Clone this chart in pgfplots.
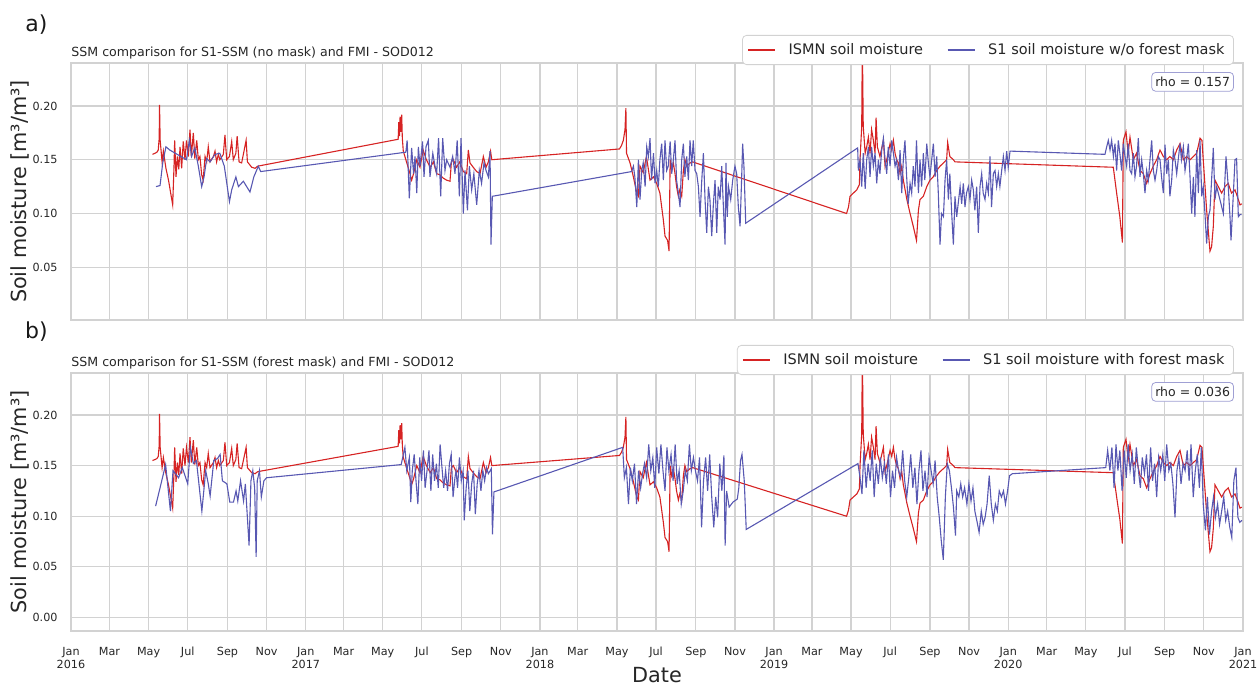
\documentclass[border=0pt]{standalone}
\usepackage{fontspec}
\setmainfont{DejaVu Sans}
\usepackage{pgfplots}
\pgfplotsset{compat=1.18}
\usepackage{pgfplotstable}

\definecolor{ismn}{RGB}{214,35,35}
\definecolor{sone}{RGB}{88,88,178}
\definecolor{gridc}{RGB}{210,210,210}
\definecolor{rhoc}{RGB}{160,160,212}

% days since 2016-01-01, soil moisture
\pgfplotstableread{
d v
127 0.155
131 0.156
134 0.157
136 0.159
137.5 0.170
138 0.201
139 0.168
142 0.148
144 0.158
148 0.142
152 0.131
158.5 0.108
160.6 0.144
161.6 0.168
163.7 0.134
165.8 0.153
168 0.141
170 0.162
172.5 0.142
175 0.167
177.7 0.150
180 0.168
183 0.153
185.5 0.178
187.6 0.153
190.7 0.175
193 0.151
196 0.168
198.5 0.150
201 0.153
203.7 0.136
206 0.131
209 0.153
211.5 0.148
214 0.162
216.7 0.148
222 0.153
224.5 0.158
227 0.148
229.7 0.155
232 0.150
237.5 0.155
240 0.173
242.7 0.150
247 0.153
250.5 0.167
253 0.150
257 0.156
259 0.172
262 0.148
266 0.147
273 0.168
275 0.148
281.7 0.143
287 0.142
291 0.144
510 0.169
511 0.185
512 0.172
513 0.190
514 0.176
515.5 0.192
516.5 0.170
518 0.158
523 0.148
528.5 0.137
531 0.131
534 0.137
539 0.150
544 0.143
549 0.159
554 0.150
560 0.143
565 0.148
570 0.137
575 0.136
580 0.133
585.6 0.131
590.8 0.130
593 0.148
596 0.150
601 0.143
606 0.148
611.6 0.139
616.8 0.137
619.4 0.159
622 0.147
627 0.143
632.4 0.139
637.6 0.137
642.8 0.153
647 0.143
650.6 0.148
654 0.158
656 0.150
855 0.160
858 0.163
861 0.168
863.6 0.178
865 0.198
866 0.156
871.5 0.147
876.7 0.134
882 0.119
884.5 0.116
887 0.144
892 0.138
897 0.153
902.6 0.131
908 0.134
913 0.128
918 0.119
923.4 0.094
926 0.079
930 0.075
932.3 0.065
934 0.150
936.4 0.140
939 0.147
941.6 0.137
944 0.125
946.8 0.116
949 0.122
952 0.116
954.6 0.140
957 0.150
959.8 0.144
965 0.147
969 0.148
1209 0.100
1212 0.106
1214.4 0.116
1219.6 0.119
1225 0.122
1229 0.127
1230 0.150
1232.6 0.181
1233.6 0.260
1235 0.181
1238 0.156
1240.4 0.162
1243 0.171
1245.6 0.156
1248 0.178
1250.8 0.168
1253.4 0.156
1255 0.189
1257 0.162
1261 0.153
1266.4 0.168
1269 0.144
1271.6 0.150
1276.8 0.165
1279.4 0.159
1282 0.168
1284.6 0.156
1287 0.150
1289.8 0.147
1292.4 0.137
1295 0.144
1297.5 0.131
1303 0.113
1308 0.100
1313 0.088
1318 0.075
1321 0.103
1323.5 0.113
1328.7 0.116
1334 0.125
1339 0.131
1344 0.134
1349.5 0.140
1354.7 0.144
1360 0.147
1365 0.150
1366.6 0.166
1370 0.153
1375.5 0.150
1378 0.148
1624.8 0.143
1630 0.119
1635 0.097
1639 0.073
1640.4 0.168
1644.6 0.176
1648 0.156
1650.8 0.171
1656 0.150
1661 0.156
1666.4 0.140
1671.6 0.137
1676.8 0.128
1682 0.137
1687 0.144
1692.4 0.150
1697.6 0.159
1702.8 0.153
1708 0.150
1713 0.153
1718.4 0.150
1723.6 0.159
1728.8 0.165
1734 0.150
1739 0.153
1744.4 0.150
1749.6 0.153
1754.8 0.156
1760 0.170
1763 0.168
1765 0.150
1770.3 0.103
1775.5 0.065
1778 0.069
1780.7 0.088
1783.3 0.131
1788.5 0.125
1793.7 0.119
1799 0.125
1804 0.128
1809 0.119
1814.5 0.122
1819.7 0.113
1822.3 0.108
1825 0.109
}\redtab

\pgfplotstableread{
d v
132.5 0.125
138.8 0.126
143 0.147
148 0.162
154 0.159
180 0.150
184.5 0.168
188 0.153
193 0.161
198.5 0.144
203.7 0.125
207.4 0.134
211.5 0.151
216.7 0.148
224.5 0.155
232 0.156
239 0.144
247 0.111
250.5 0.122
257 0.134
261 0.125
268.7 0.130
279 0.120
285 0.134
292 0.144
295.7 0.139
522 0.157
524 0.168
527.4 0.114
531 0.161
534 0.137
536.3 0.153
539 0.119
541.5 0.162
544 0.144
548 0.167
550.3 0.134
553.4 0.162
557 0.168
559.6 0.134
564 0.156
567.4 0.144
570 0.137
573 0.170
576.3 0.116
579.4 0.170
583 0.140
585.6 0.150
590.8 0.143
595 0.153
598.6 0.137
602 0.168
605.4 0.116
608 0.170
611.6 0.100
614.2 0.140
618 0.103
621 0.144
624.6 0.122
628 0.137
632.4 0.108
636.5 0.140
640 0.128
643.8 0.147
647 0.140
650.6 0.134
653.2 0.158
654.7 0.071
656.8 0.116
874 0.139
876.7 0.144
879 0.134
882 0.106
884.5 0.150
887 0.113
889.7 0.140
892 0.147
895 0.125
897.5 0.162
900 0.153
902.6 0.170
905 0.131
908 0.156
910.5 0.128
913 0.140
915.6 0.125
918 0.150
920.8 0.165
923.4 0.131
926 0.168
928.6 0.140
931 0.144
934 0.167
936.4 0.137
939 0.150
941.6 0.168
944 0.131
946.8 0.119
949.4 0.106
952 0.150
954.6 0.165
957 0.134
959.8 0.153
962.4 0.131
965 0.168
967.6 0.144
970 0.168
972.8 0.140
975.4 0.137
978 0.125
980.6 0.097
983 0.128
985.8 0.156
988.4 0.113
991 0.082
993.6 0.125
996 0.113
998.8 0.079
1001.4 0.109
1004 0.131
1006.6 0.082
1009 0.125
1011.8 0.113
1014.4 0.144
1017 0.106
1019.6 0.071
1021 0.147
1023 0.097
1025 0.125
1028.4 0.113
1031.5 0.131
1035 0.144
1037.7 0.137
1040.3 0.106
1043 0.088
1045.5 0.134
1047 0.165
1049 0.144
1051.8 0.091
1226.3 0.161
1227.4 0.140
1230 0.150
1232.6 0.125
1235 0.156
1238 0.123
1240.4 0.150
1243 0.162
1245.6 0.134
1248 0.162
1250.8 0.144
1253.4 0.156
1256 0.128
1258.6 0.150
1261 0.137
1263.8 0.159
1266.4 0.170
1269 0.150
1271.6 0.137
1274 0.162
1276.8 0.144
1279.4 0.168
1282 0.156
1284.6 0.144
1287 0.150
1289.8 0.131
1292.4 0.159
1295 0.119
1297.5 0.150
1300 0.168
1302.7 0.134
1305 0.109
1308 0.128
1310.5 0.119
1313 0.144
1315.7 0.125
1318 0.168
1321 0.119
1323.5 0.150
1326 0.125
1328.7 0.156
1331 0.131
1334 0.165
1336.5 0.147
1339 0.134
1341.7 0.150
1344.3 0.165
1347 0.134
1349.5 0.153
1352 0.119
1354.7 0.071
1357 0.100
1360 0.097
1362.5 0.131
1365 0.150
1367.7 0.113
1370 0.137
1372.9 0.100
1375.5 0.071
1378 0.116
1380.7 0.097
1386 0.125
1388.4 0.109
1391 0.128
1393.6 0.106
1396 0.119
1398.8 0.125
1401.4 0.113
1404 0.131
1406.6 0.122
1409 0.103
1411.8 0.125
1414.4 0.082
1417 0.125
1419.6 0.137
1422 0.119
1424.8 0.113
1427.4 0.128
1430 0.119
1432.6 0.153
1435 0.106
1437.8 0.137
1440.4 0.140
1443 0.125
1445.6 0.137
1448 0.125
1450.8 0.140
1453.4 0.153
1456 0.140
1458.6 0.158
1461 0.143
1463.8 0.158
1611.8 0.155
1614.5 0.162
1617 0.168
1619.7 0.159
1622.2 0.168
1625 0.153
1627.4 0.165
1630 0.140
1632.6 0.168
1635 0.156
1637.8 0.140
1640.4 0.165
1643 0.153
1645.6 0.144
1648 0.165
1650.8 0.140
1653.4 0.137
1656 0.156
1658.6 0.134
1661 0.144
1663.8 0.170
1666.4 0.134
1669 0.150
1671.6 0.137
1674.2 0.119
1676.8 0.140
1679.4 0.131
1682 0.150
1684.6 0.168
1687.2 0.140
1689.8 0.131
1692.4 0.140
1695 0.153
1697.6 0.150
1700 0.134
1702.8 0.119
1705.4 0.164
1708 0.137
1710.6 0.150
1713 0.116
1715.8 0.131
1718.4 0.159
1721 0.150
1723.6 0.137
1726 0.150
1728.8 0.165
1731 0.150
1734 0.162
1736.6 0.140
1739 0.150
1741.8 0.165
1744.4 0.134
1747 0.100
1749.6 0.134
1752 0.097
1754.8 0.159
1757.4 0.119
1760 0.168
1762.6 0.116
1765 0.125
1767.7 0.100
1770.3 0.072
1773 0.097
1775.5 0.103
1780.7 0.161
1783.3 0.113
1786 0.125
1791 0.113
1796.3 0.100
1800.5 0.153
1804 0.125
1806.7 0.097
1808.3 0.075
1812 0.119
1814.5 0.150
1817 0.151
1819.7 0.097
1822.3 0.099
1825 0.099
}\blueatab

\pgfplotstableread{
d v
131.9 0.110
138.8 0.128
147.5 0.151
155 0.105
159 0.145
167.7 0.138
173.5 0.148
182 0.132
186 0.168
190.8 0.152
195.5 0.155
204 0.105
210 0.145
214 0.132
216.9 0.120
222.6 0.155
228.4 0.157
232.5 0.161
236 0.135
243 0.132
247.5 0.114
253.3 0.114
257.3 0.125
260 0.115
264.3 0.135
269 0.115
271.8 0.132
277.6 0.071
280.5 0.135
283.4 0.145
286.3 0.128
288.6 0.060
290.3 0.135
293.8 0.145
296.7 0.119
300.7 0.135
304.8 0.138
514.7 0.151
520.5 0.168
523.4 0.145
527.5 0.158
529.7 0.114
532 0.145
535 0.161
537.8 0.135
540.7 0.112
543.6 0.158
546.5 0.135
549.4 0.165
552 0.128
555 0.145
558 0.165
561 0.125
563.8 0.161
566.7 0.135
569.6 0.152
572.5 0.128
575.4 0.171
578.3 0.148
581 0.128
584 0.145
587 0.125
589.9 0.152
592.7 0.161
595.6 0.119
598.5 0.138
600.3 0.145
602.6 0.128
605.5 0.158
608.4 0.135
611.3 0.145
613 0.096
616 0.128
618.8 0.145
621.7 0.105
624.6 0.132
627.5 0.145
630.3 0.102
633.2 0.132
636 0.145
639 0.125
642 0.145
644.8 0.135
647.7 0.148
650.6 0.142
653.5 0.145
655.2 0.147
657 0.082
659.3 0.124
860 0.168
862.6 0.138
865.8 0.148
869 0.112
872 0.148
875 0.135
878.4 0.152
881.6 0.112
884.8 0.145
888 0.128
891 0.142
894 0.152
897.4 0.138
900.6 0.171
903.8 0.145
907 0.158
910 0.128
913 0.168
916.4 0.142
919.6 0.171
922.8 0.145
926 0.125
929 0.168
932 0.145
935.4 0.161
938.6 0.135
941.8 0.171
945 0.132
948 0.145
951.3 0.112
954.4 0.125
957.6 0.145
960.8 0.135
964 0.171
967 0.145
970.3 0.158
973.4 0.145
976.6 0.135
979.8 0.158
983 0.089
986 0.135
989.3 0.158
992.4 0.125
995.6 0.161
998.8 0.119
1002 0.089
1005 0.119
1008 0.099
1011.4 0.152
1014.6 0.125
1017.8 0.160
1019.7 0.071
1022 0.125
1026 0.109
1032 0.114
1038.7 0.117
1041 0.128
1043.7 0.155
1046 0.161
1049.5 0.135
1052.6 0.087
1226.8 0.152
1230 0.138
1233 0.122
1236 0.165
1239.5 0.128
1242.6 0.152
1245.8 0.135
1249 0.165
1252 0.119
1255.3 0.152
1258.5 0.132
1261.6 0.158
1264.8 0.138
1268 0.152
1271 0.132
1274.3 0.161
1277.5 0.119
1280.6 0.145
1283.8 0.128
1287 0.158
1290 0.145
1293.3 0.138
1296.5 0.165
1299.6 0.135
1302.8 0.119
1306 0.138
1309 0.161
1312.3 0.128
1315.5 0.148
1318.7 0.112
1321.8 0.145
1325 0.165
1328 0.125
1331.3 0.145
1334.5 0.119
1337.6 0.158
1340.8 0.145
1344 0.132
1347 0.155
1350.3 0.119
1353.5 0.099
1356.6 0.076
1359.8 0.057
1363 0.119
1366 0.152
1369.3 0.145
1372.5 0.128
1375.6 0.109
1378.8 0.081
1380.7 0.125
1384 0.119
1387 0.132
1390 0.119
1393 0.128
1396.6 0.112
1399.7 0.132
1403 0.115
1406 0.128
1409 0.105
1412.6 0.094
1415.6 0.084
1419 0.105
1422 0.092
1425 0.099
1428 0.112
1431.4 0.140
1434.6 0.112
1437.8 0.096
1441 0.112
1444 0.105
1447 0.125
1450.4 0.119
1453.6 0.125
1456.7 0.112
1460 0.125
1463 0.140
1467.5 0.142
1613 0.148
1616 0.165
1619.5 0.145
1622.6 0.168
1626 0.128
1629 0.171
1632 0.145
1635 0.165
1638.5 0.125
1641.7 0.165
1645 0.138
1648 0.171
1651 0.145
1654.4 0.161
1657.5 0.132
1660.7 0.168
1664 0.145
1667 0.128
1670 0.158
1673.4 0.142
1676.5 0.161
1679.7 0.125
1683 0.168
1686 0.135
1689.2 0.152
1692.4 0.119
1695.5 0.158
1698.7 0.145
1702 0.161
1705 0.135
1708 0.171
1711.4 0.145
1714.5 0.152
1717.7 0.132
1721 0.099
1724 0.145
1727 0.158
1730.4 0.132
1733.6 0.152
1736.7 0.145
1740 0.165
1743 0.135
1746 0.171
1749.4 0.119
1752.6 0.145
1755.7 0.161
1759 0.128
1762 0.168
1765 0.112
1768.4 0.086
1771.5 0.119
1774.7 0.082
1778 0.105
1781 0.119
1784 0.099
1787.4 0.112
1790.5 0.092
1793.7 0.105
1797 0.119
1800 0.096
1803 0.105
1806.4 0.089
1809.5 0.079
1812.7 0.135
1816 0.148
1819 0.099
1822 0.094
1825.4 0.096
}\bluebtab

\pgfplotsset{
  ssm/.style={
    scale only axis, width=586pt,
    xmin=0, xmax=1827,
    xtick={0,60,121,182,244,305,366,425,486,547,609,670,731,790,851,912,974,1035,1096,1155,1216,1277,1339,1400,1461,1521,1582,1643,1705,1766,1827},
    grid=major,
    major grid style={gridc, line width=0.6pt},
    axis line style={gridc, line width=0.7pt},
    major tick length=0pt,
    /pgf/number format/assume math mode=true,
    tick label style={font=\fontsize{5.6}{6.5}\selectfont, text=black!85},
    yticklabel style={/pgf/number format/.cd, fixed, fixed zerofill, precision=2, /tikz/.cd, xshift=-3.2pt},
    xticklabel style={align=center, yshift=-4.5pt},
    ylabel={Soil moisture [m³/m³]},
    ylabel style={at={(axis description cs:-0.0435,0.5)}, rotate=0, anchor=center, font=\fontsize{10.4}{12}\selectfont, text=black!85},
    title style={at={(rel axis cs:0,1)}, anchor=south west, inner sep=0pt, yshift=-4.2pt, font=\fontsize{6.3}{7.5}\selectfont, text=black!85},
    legend columns=2,
    legend style={at={(rel axis cs:0.9923,1)}, anchor=south east, yshift=-1pt,
      font=\fontsize{7.25}{8.5}\selectfont, text=black!85,
      draw=gridc, rounded corners=2pt, fill=white, inner xsep=2.5pt, inner ysep=1.8pt,
      /tikz/every odd column/.append style={column sep=4.5pt},
      /tikz/every even column/.append style={column sep=10pt}},
    legend image code/.code={\draw[#1] (0pt,0pt) -- (13.5pt,0pt);},
    every axis plot/.append style={line width=0.55pt},
  }
}

\begin{document}
\begin{tikzpicture}
\useasboundingbox (0,0) rectangle (628.5pt,-343.5pt);

\node[font=\fontsize{11}{13}\selectfont, text=black!90] at (18.25pt,-12.5pt) {a)};
\node[font=\fontsize{11}{13}\selectfont, text=black!90] at (18.25pt,-166pt) {b)};

\begin{axis}[ssm, at={(35.5pt,-31.5pt)}, anchor=north west, height=128.5pt,
  ymin=0.001, ymax=0.2399, ytick={0.05,0.10,0.15,0.20},
  xticklabels={},
  title={SSM comparison for S1-SSM (no mask) and FMI - SOD012}]
\addplot[ismn] table[x=d,y=v] {\redtab};
\addlegendentry{ISMN soil moisture}
\addplot[sone] table[x=d,y=v] {\blueatab};
\addlegendentry{S1 soil moisture w/o forest mask}
\node[draw=rhoc, rounded corners=2pt, fill=white, anchor=north east, inner xsep=1.8pt, inner ysep=2.3pt,
  font=\fontsize{6.25}{7}\selectfont, text=black!85] at (rel axis cs:0.9923,0.965) {rho = 0.157};
\end{axis}

\begin{axis}[ssm, at={(35.5pt,-186.5pt)}, anchor=north west, height=129pt,
  ymin=-0.0133, ymax=0.2414, ytick={0,0.05,0.10,0.15,0.20},
  xticklabels={{Jan\\2016},Mar,May,Jul,Sep,Nov,{Jan\\2017},Mar,May,Jul,Sep,Nov,{Jan\\2018},Mar,May,Jul,Sep,Nov,{Jan\\2019},Mar,May,Jul,Sep,Nov,{Jan\\2020},Mar,May,Jul,Sep,Nov,{Jan\\2021}},
  xlabel={Date},
  xlabel style={at={(axis description cs:0.5,-0.172)}, anchor=center, font=\fontsize{10.4}{12}\selectfont, text=black!85},
  title={SSM comparison for S1-SSM (forest mask) and FMI - SOD012}]
\addplot[ismn] table[x=d,y=v] {\redtab};
\addlegendentry{ISMN soil moisture}
\addplot[sone] table[x=d,y=v] {\bluebtab};
\addlegendentry{S1 soil moisture with forest mask}
\node[draw=rhoc, rounded corners=2pt, fill=white, anchor=north east, inner xsep=1.8pt, inner ysep=2.3pt,
  font=\fontsize{6.25}{7}\selectfont, text=black!85] at (rel axis cs:0.9923,0.965) {rho = 0.036};
\end{axis}
\end{tikzpicture}
\end{document}
